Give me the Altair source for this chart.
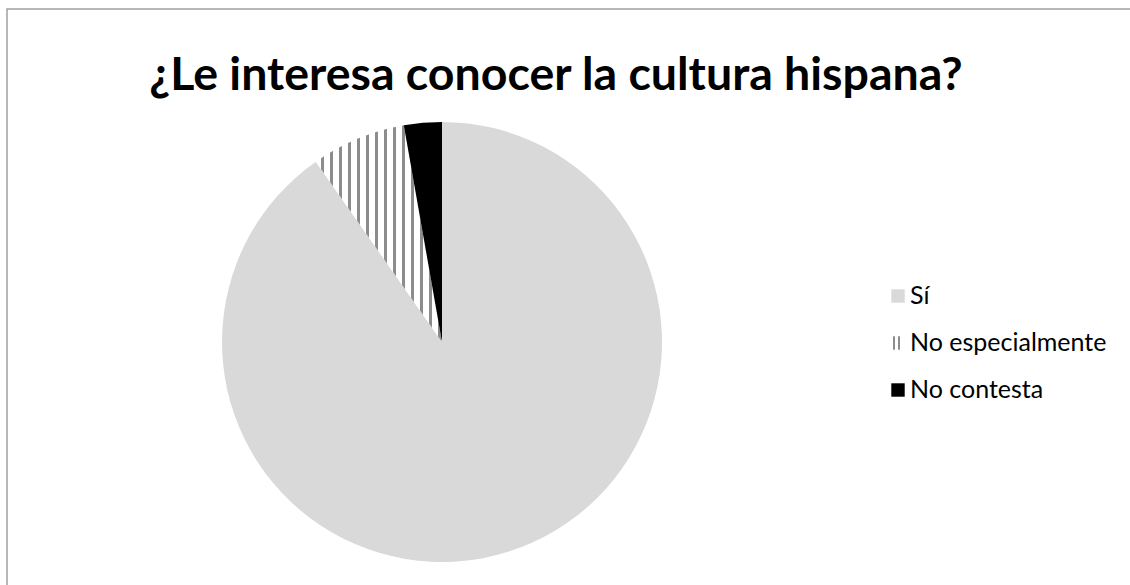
import altair as alt
import pandas as pd

title_text = "¿Le interesa conocer la cultura hispana?"
categories = ["Sí", "No especialmente", "No contesta"]
values = [65, 5, 2]
order = [0, 1, 2]

SI_COLOR = "#d9d9d9"
STRIPE_COLOR = "#8c8c8c"
NC_COLOR = "#000000"

df = pd.DataFrame({"cat": categories, "value": values, "idx": order})

# Stripe pattern (vertical lines) built as a hard-stop linear gradient
def stripe_gradient(n_stripes, width_frac, start_frac):
    stops = []
    period = 1.0 / n_stripes
    for i in range(n_stripes + 1):
        a = start_frac + i * period
        b = a + width_frac
        if a >= 1:
            break
        b = min(b, 1.0)
        stops += [
            alt.GradientStop(offset=max(a - 1e-4, 0), color="#ffffff"),
            alt.GradientStop(offset=a, color=STRIPE_COLOR),
            alt.GradientStop(offset=b, color=STRIPE_COLOR),
            alt.GradientStop(offset=min(b + 1e-4, 1), color="#ffffff"),
        ]
    return alt.LinearGradient(gradient="linear", x1=0, x2=1, y1=0, y2=0, stops=stops)

slice_grad = stripe_gradient(14, 0.022, 0.04)
legend_grad = alt.LinearGradient(
    gradient="linear", x1=0, x2=1, y1=0, y2=0,
    stops=[
        alt.GradientStop(offset=0.0, color="#ffffff"),
        alt.GradientStop(offset=0.12, color="#ffffff"),
        alt.GradientStop(offset=0.121, color=STRIPE_COLOR),
        alt.GradientStop(offset=0.27, color=STRIPE_COLOR),
        alt.GradientStop(offset=0.271, color="#ffffff"),
        alt.GradientStop(offset=0.50, color="#ffffff"),
        alt.GradientStop(offset=0.501, color=STRIPE_COLOR),
        alt.GradientStop(offset=0.65, color=STRIPE_COLOR),
        alt.GradientStop(offset=0.651, color="#ffffff"),
        alt.GradientStop(offset=1.0, color="#ffffff"),
    ],
)

base = (
    alt.Chart(df)
    .transform_window(cum="sum(value)", sort=[alt.SortField("idx")], frame=[None, 0])
    .transform_joinaggregate(total="sum(value)")
    .transform_calculate(
        t0="(datum.cum - datum.value) / datum.total",
        t1="datum.cum / datum.total",
    )
)

theta_enc = alt.Theta("t0:Q", scale=alt.Scale(domain=[0, 1]))

def slice_layer(cat, fill):
    return (
        base.transform_filter(alt.datum.cat == cat)
        .mark_arc(radius=220, fill=fill)
        .encode(theta=theta_enc, theta2="t1:Q", x=alt.value(442), y=alt.value(342))
    )

slices = [
    slice_layer(categories[0], SI_COLOR),
    slice_layer(categories[1], slice_grad),
    slice_layer(categories[2], NC_COLOR),
]

y_enc = alt.Y("idx:O", scale=alt.Scale(type="point", range=[296, 390], padding=0), axis=None)

leg = alt.Chart(df)
sq_solid = (
    leg.transform_filter(alt.datum.idx != 1)
    .mark_square(size=180, opacity=1)
    .encode(
        x=alt.value(898),
        y=y_enc,
        fill=alt.Fill("cat:N", scale=alt.Scale(domain=categories, range=[SI_COLOR, STRIPE_COLOR, NC_COLOR]), legend=None),
    )
)
sq_striped = (
    leg.transform_filter(alt.datum.idx == 1)
    .mark_square(size=180, opacity=1, fill=legend_grad)
    .encode(x=alt.value(898), y=y_enc)
)
leg_text = leg.mark_text(align="left", baseline="middle", fontSize=25, font="Lato", color="#000000").encode(
    x=alt.value(910), y=y_enc, text="cat:N"
)

title = (
    alt.Chart(alt.Data(values=[{"t": title_text}]))
    .mark_text(fontSize=46.5, fontWeight="bold", font="Lato", color="#000000", align="center", baseline="middle")
    .encode(x=alt.value(556), y=alt.value(76), text="t:N")
)

border = (
    alt.Chart(alt.Data(values=[{"b": 1}]))
    .mark_rect(fillOpacity=0, stroke="#a0a0a0", strokeWidth=1.5)
    .encode(x=alt.value(7), x2=alt.value(1140), y=alt.value(9), y2=alt.value(600))
)

chart = (
    alt.layer(border, *slices, sq_solid, sq_striped, leg_text, title)
    .properties(width=1130, height=585, padding=0, autosize=alt.AutoSizeParams(type="none"))
    .configure_view(stroke=None)
)

chart.save("out.html", embed_options={"renderer": "svg", "actions": False})
